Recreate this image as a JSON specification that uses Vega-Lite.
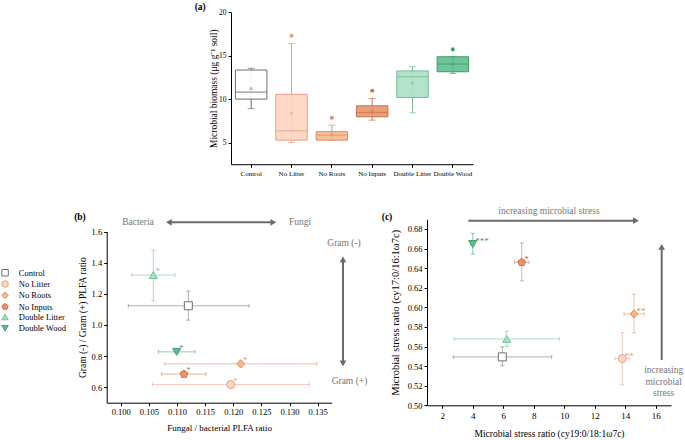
{
  "$schema": "https://vega.github.io/schema/vega-lite/v6.json",
  "background": "white",
  "width": 685,
  "height": 440,
  "autosize": {"type": "none"},
  "padding": 0,
  "config": {
    "view": {"stroke": null},
    "font": "Liberation Serif",
    "text": {"font": "Liberation Serif"},
    "axis": {"labelFont": "Liberation Serif", "titleFont": "Liberation Serif", "labelColor": "#000", "titleColor": "#000", "domainColor": "#000", "tickColor": "#000", "grid": false, "titleFontWeight": "normal", "tickSize": 3, "labelPadding": 2, "labelFontSize": 8.5, "titleFontSize": 9.5, "labelOverlap": false, "labelFlush": false},
    "legend": {"labelFont": "Liberation Serif", "labelFontSize": 8.5, "labelColor": "#000"}
  },
  "datasets": {
    "boxes": [
      {"t": "Control", "lo": 8.9, "q1": 10.0, "med": 10.8, "q3": 13.35, "hi": 13.55, "mean": 11.2},
      {"t": "No Litter", "lo": 5.0, "q1": 5.27, "med": 6.35, "q3": 10.55, "hi": 16.4, "mean": 8.35, "out": 17.3},
      {"t": "No Roots", "lo": 5.27, "q1": 5.27, "med": 5.85, "q3": 6.25, "hi": 7.0, "mean": 5.9, "out": 7.85},
      {"t": "No Inputs", "lo": 7.58, "q1": 7.96, "med": 8.46, "q3": 9.23, "hi": 10.08, "mean": 8.6, "out": 10.96},
      {"t": "Double Litter", "lo": 8.42, "q1": 10.19, "med": 12.58, "q3": 13.25, "hi": 13.73, "mean": 11.81},
      {"t": "Double Wood", "lo": 12.96, "q1": 13.15, "med": 14.04, "q3": 14.88, "hi": 14.88, "mean": 14.0, "out": 15.73}
    ],
    "tagA": [{"t": "Control", "label": "(a)", "y": 20.6}],
    "ptsB": [
      {"t": "Control", "x": 0.11201, "xlo": 0.10134, "xhi": 0.1228, "y": 1.1235, "ylo": 1.031, "yhi": 1.218, "sig": ""},
      {"t": "No Litter", "x": 0.11954, "xlo": 0.10561, "xhi": 0.13352, "y": 0.617, "ylo": 0.606, "yhi": 0.628, "sig": "*"},
      {"t": "No Roots", "x": 0.12132, "xlo": 0.10786, "xhi": 0.13483, "y": 0.75, "ylo": 0.729, "yhi": 0.772, "sig": "*"},
      {"t": "No Inputs", "x": 0.11124, "xlo": 0.10728, "xhi": 0.11515, "y": 0.684, "ylo": 0.674, "yhi": 0.694, "sig": "*"},
      {"t": "Double Litter", "x": 0.10579, "xlo": 0.10194, "xhi": 0.10964, "y": 1.321, "ylo": 1.156, "yhi": 1.482, "sig": "*"},
      {"t": "Double Wood", "x": 0.10994, "xlo": 0.10668, "xhi": 0.1132, "y": 0.827, "ylo": 0.818, "yhi": 0.836, "sig": "*"}
    ],
    "ptsC": [
      {"t": "Control", "x": 5.94, "xlo": 2.72, "xhi": 9.18, "y": 0.5494, "ylo": 0.5403, "yhi": 0.5597, "sig": ""},
      {"t": "No Litter", "x": 13.81, "xlo": 13.33, "xhi": 14.27, "y": 0.5477, "ylo": 0.5209, "yhi": 0.5742, "sig": "**"},
      {"t": "No Roots", "x": 14.57, "xlo": 13.92, "xhi": 15.23, "y": 0.5933, "ylo": 0.5739, "yhi": 0.6133, "sig": "**"},
      {"t": "No Inputs", "x": 7.21, "xlo": 6.72, "xhi": 7.69, "y": 0.646, "ylo": 0.627, "yhi": 0.6657, "sig": "*"},
      {"t": "Double Litter", "x": 6.23, "xlo": 2.77, "xhi": 9.68, "y": 0.5678, "ylo": 0.56, "yhi": 0.5757, "sig": ""},
      {"t": "Double Wood", "x": 4.0, "xlo": 3.88, "xhi": 4.12, "y": 0.6647, "ylo": 0.6542, "yhi": 0.6756, "sig": "***"}
    ],
    "textB": [
      {"label": "Bacteria", "x": 0.10306, "y": 1.6644},
      {"label": "Fungi", "x": 0.13188, "y": 1.6644},
      {"label": "Gram (-)", "x": 0.13969, "y": 1.5272},
      {"label": "Gram (+)", "x": 0.14066, "y": 0.6386}
    ],
    "tagB": [{"label": "(b)", "x": 0.09275, "y": 1.6947}],
    "shaftB": [
      {"x": 0.1086, "x2": 0.1271, "y": 1.6605, "y2": 1.6605},
      {"x": 0.13951, "x2": 0.13951, "y": 1.4216, "y2": 0.7526}
    ],
    "leftB": [{"x": 0.10855, "y": 1.6605}],
    "rightB": [{"x": 0.12712, "y": 1.6605}],
    "upB": [{"x": 0.13951, "y": 1.4216}],
    "downB": [{"x": 0.13951, "y": 0.7526}],
    "textC": [
      {"label": "increasing microbial stress", "x": 9.0, "y": 0.6987},
      {"label": "increasing", "x": 16.52, "y": 0.536},
      {"label": "microbial", "x": 16.52, "y": 0.5241},
      {"label": "stress", "x": 16.52, "y": 0.5122}
    ],
    "tagC": [{"label": "(c)", "x": -1.623, "y": 0.6922}],
    "shaftC": [
      {"x": 3.708, "x2": 14.7, "y": 0.68847, "y2": 0.68847},
      {"x": 16.39, "x2": 16.39, "y": 0.5462, "y2": 0.6618}
    ],
    "rightC": [{"x": 14.7, "y": 0.68847}],
    "upC": [{"x": 16.39, "y": 0.6618}]
  },
  "resolve": {
    "scale": {"x": "independent", "y": "independent"},
    "axis": {"x": "independent", "y": "independent"}
  },
  "layer": [
    {
      "encoding": {
        "x": {"field": "t", "type": "nominal",
          "scale": {"domain": ["Control", "No Litter", "No Roots", "No Inputs", "Double Litter", "Double Wood"], "range": [231, 473], "paddingInner": 0, "paddingOuter": 0},
          "axis": {"title": null, "orient": "bottom", "offset": -275.8, "labelAngle": 0, "labelFontSize": 7, "labelPadding": 2}}
      },
      "layer": [
        {
          "data": {"name": "boxes"},
          "mark": {"type": "rule", "strokeWidth": 1},
          "encoding": {
            "y": {"field": "lo", "type": "quantitative", "scale": {"domain": [2.5, 20], "range": [164.2, 12.3], "nice": false, "zero": false},
              "axis": {"title": "Microbial biomass (μg g⁻¹ soil)", "orient": "left", "offset": -231, "values": [5, 10, 15, 20], "labelFontSize": 7.5, "titleFontSize": 9.5, "titlePadding": 0.5}},
            "y2": {"field": "hi"},
            "color": {"field": "t", "type": "nominal", "scale": {"domain": ["Double Wood", "Double Litter", "No Inputs", "No Roots", "No Litter", "Control"], "range": ["#3e9d70", "#72c098", "#c8744c", "#dc8f62", "#e6a088", "#6e6e6e"]}, "legend": null}
          }
        },
        {
          "data": {"name": "boxes"},
          "mark": {"type": "tick", "size": 7, "thickness": 1},
          "encoding": {"y": {"field": "lo", "type": "quantitative"}, "color": {"field": "t", "type": "nominal", "legend": null}}
        },
        {
          "data": {"name": "boxes"},
          "mark": {"type": "tick", "size": 7, "thickness": 1},
          "encoding": {"y": {"field": "hi", "type": "quantitative"}, "color": {"field": "t", "type": "nominal", "legend": null}}
        },
        {
          "data": {"name": "boxes"},
          "mark": {"type": "bar", "width": {"band": 0.78}, "strokeWidth": 1, "fillOpacity": 0.9},
          "encoding": {
            "y": {"field": "q1", "type": "quantitative"},
            "y2": {"field": "q3"},
            "fill": {"field": "t", "type": "nominal", "scale": {"domain": ["Control", "No Litter", "No Roots", "No Inputs", "Double Litter", "Double Wood"], "range": ["#ffffff", "#fdd5c0", "#f7b890", "#e8946a", "#abe0c5", "#5fbe8e"]}},
            "stroke": {"field": "t", "type": "nominal", "scale": {"domain": ["Control", "No Litter", "No Roots", "No Inputs", "Double Litter", "Double Wood"], "range": ["#6e6e6e", "#e6a088", "#dc8f62", "#c8744c", "#72c098", "#3e9d70"]}}
          }
        },
        {
          "data": {"name": "boxes"},
          "mark": {"type": "tick", "size": 31, "thickness": 1.2},
          "encoding": {"y": {"field": "med", "type": "quantitative"}, "color": {"field": "t", "type": "nominal", "legend": null}}
        },
        {
          "data": {"name": "boxes"},
          "mark": {"type": "point", "shape": "square", "size": 9, "filled": true, "opacity": 0.45},
          "encoding": {"y": {"field": "mean", "type": "quantitative"}, "color": {"field": "t", "type": "nominal", "legend": null}}
        },
        {
          "data": {"name": "boxes"},
          "mark": {"type": "point", "shape": "M0,-1L0.28,-0.68L0.71,-0.71L0.68,-0.28L1,0L0.68,0.28L0.71,0.71L0.28,0.68L0,1L-0.28,0.68L-0.71,0.71L-0.68,0.28L-1,0L-0.68,-0.28L-0.71,-0.71L-0.28,-0.68Z", "size": 22, "filled": true, "opacity": 1},
          "encoding": {"y": {"field": "out", "type": "quantitative"}, "color": {"field": "t", "type": "nominal", "legend": null}}
        },
        {
          "data": {"name": "tagA"},
          "mark": {"type": "text", "align": "center", "baseline": "middle", "dx": -51, "fontSize": 9.5, "fontWeight": "bold", "color": "#000"},
          "encoding": {"y": {"field": "y", "type": "quantitative"}, "text": {"field": "label"}}
        }
      ]
    },
    {
      "layer": [
        {
          "data": {"name": "ptsB"},
          "mark": {"type": "errorbar", "ticks": {"size": 4, "opacity": 0.55}, "rule": {"opacity": 0.55}},
          "encoding": {
            "x": {"field": "xlo", "type": "quantitative", "title": "Fungal / bacterial PLFA ratio", "scale": {"domain": [0.0975, 0.1375], "range": [106.7, 331.7], "nice": false, "zero": false},
              "axis": {"title": "Fungal / bacterial PLFA ratio", "orient": "bottom", "offset": -37.3, "values": [0.1, 0.105, 0.11, 0.115, 0.12, 0.125, 0.13, 0.135], "format": ".3f", "titleFontSize": 9, "titlePadding": 7}},
            "x2": {"field": "xhi"},
            "y": {"field": "y", "type": "quantitative", "title": "Gram (-) / Gram (+) PLFA ratio", "scale": {"domain": [0.5, 1.6], "range": [402.7, 231.7], "nice": false, "zero": false},
              "axis": {"title": "Gram (-) / Gram (+) PLFA ratio", "orient": "left", "offset": -106.7, "values": [0.6, 0.8, 1.0, 1.2, 1.4, 1.6], "format": ".1f", "titleFontSize": 9.5, "titlePadding": 3.3}},
            "color": {"field": "t", "type": "nominal", "legend": null}
          }
        },
        {
          "data": {"name": "ptsB"},
          "mark": {"type": "errorbar", "ticks": {"size": 4, "opacity": 0.55}, "rule": {"opacity": 0.55}},
          "encoding": {
            "x": {"field": "x", "type": "quantitative", "title": "Fungal / bacterial PLFA ratio"},
            "y": {"field": "ylo", "type": "quantitative", "title": "Gram (-) / Gram (+) PLFA ratio", "axis": {"title": "Gram (-) / Gram (+) PLFA ratio"}},
            "y2": {"field": "yhi"},
            "color": {"field": "t", "type": "nominal", "legend": null}
          }
        },
        {
          "data": {"name": "ptsB"},
          "mark": {"type": "point", "size": 64, "strokeWidth": 1, "opacity": 1},
          "encoding": {
            "x": {"field": "x", "type": "quantitative", "title": "Fungal / bacterial PLFA ratio"},
            "y": {"field": "y", "type": "quantitative", "title": "Gram (-) / Gram (+) PLFA ratio"},
            "fill": {"field": "t", "type": "nominal", "scale": {"domain": ["Control", "No Litter", "No Roots", "No Inputs", "Double Litter", "Double Wood"], "range": ["#ffffff", "#fdd5c0", "#f7b890", "#e8946a", "#abe0c5", "#5fbe8e"]},
              "legend": {"orient": "none", "legendX": 0.8, "legendY": 268.5, "title": null, "symbolSize": 42, "symbolStrokeWidth": 1, "rowPadding": 0.3, "labelOffset": 9.5, "padding": 0}},
            "stroke": {"field": "t", "type": "nominal", "scale": {"domain": ["Control", "No Litter", "No Roots", "No Inputs", "Double Litter", "Double Wood"], "range": ["#6e6e6e", "#e6a088", "#dc8f62", "#c8744c", "#72c098", "#3e9d70"]},
              "legend": {"orient": "none", "legendX": 0.8, "legendY": 268.5, "title": null, "symbolSize": 42, "symbolStrokeWidth": 1, "rowPadding": 0.3, "labelOffset": 9.5, "padding": 0}},
            "shape": {"field": "t", "type": "nominal", "scale": {"domain": ["Control", "No Litter", "No Roots", "No Inputs", "Double Litter", "Double Wood"], "range": ["square", "circle", "diamond", "M0,-1L0.951,-0.309L0.588,0.809L-0.588,0.809L-0.951,-0.309Z", "triangle-up", "triangle-down"]},
              "legend": {"orient": "none", "legendX": 0.8, "legendY": 268.5, "title": null, "symbolSize": 42, "symbolStrokeWidth": 1, "rowPadding": 0.3, "labelOffset": 9.5, "padding": 0}}
          }
        },
        {
          "data": {"name": "ptsB"},
          "mark": {"type": "text", "align": "left", "baseline": "middle", "dx": 2.5, "dy": -3, "fontSize": 8},
          "encoding": {
            "x": {"field": "x", "type": "quantitative"},
            "y": {"field": "y", "type": "quantitative"},
            "text": {"field": "sig"},
            "color": {"field": "t", "type": "nominal", "legend": null}
          }
        },
        {
          "data": {"name": "shaftB"},
          "mark": {"type": "rule", "color": "#6b6b6b", "strokeWidth": 2},
          "encoding": {"x": {"field": "x", "type": "quantitative"}, "x2": {"field": "x2"}, "y": {"field": "y", "type": "quantitative"}, "y2": {"field": "y2"}}
        },
        {
          "data": {"name": "leftB"},
          "mark": {"type": "point", "shape": "triangle-left", "size": 45, "filled": true, "color": "#6b6b6b", "opacity": 1},
          "encoding": {"x": {"field": "x", "type": "quantitative"}, "y": {"field": "y", "type": "quantitative"}}
        },
        {
          "data": {"name": "rightB"},
          "mark": {"type": "point", "shape": "triangle-right", "size": 45, "filled": true, "color": "#6b6b6b", "opacity": 1},
          "encoding": {"x": {"field": "x", "type": "quantitative"}, "y": {"field": "y", "type": "quantitative"}}
        },
        {
          "data": {"name": "upB"},
          "mark": {"type": "point", "shape": "triangle-up", "size": 45, "filled": true, "color": "#6b6b6b", "opacity": 1},
          "encoding": {"x": {"field": "x", "type": "quantitative"}, "y": {"field": "y", "type": "quantitative"}}
        },
        {
          "data": {"name": "downB"},
          "mark": {"type": "point", "shape": "triangle-down", "size": 45, "filled": true, "color": "#6b6b6b", "opacity": 1},
          "encoding": {"x": {"field": "x", "type": "quantitative"}, "y": {"field": "y", "type": "quantitative"}}
        },
        {
          "data": {"name": "textB"},
          "mark": {"type": "text", "align": "center", "baseline": "middle", "fontSize": 9.5, "color": "#777777"},
          "encoding": {"x": {"field": "x", "type": "quantitative"}, "y": {"field": "y", "type": "quantitative"}, "text": {"field": "label"}}
        },
        {
          "data": {"name": "tagB"},
          "mark": {"type": "text", "align": "center", "baseline": "middle", "fontSize": 9.5, "fontWeight": "bold", "color": "#000"},
          "encoding": {"x": {"field": "x", "type": "quantitative"}, "y": {"field": "y", "type": "quantitative"}, "text": {"field": "label"}}
        }
      ]
    },
    {
      "layer": [
        {
          "data": {"name": "ptsC"},
          "mark": {"type": "errorbar", "ticks": {"size": 4, "opacity": 0.55}, "rule": {"opacity": 0.55}},
          "encoding": {
            "x": {"field": "xlo", "type": "quantitative", "title": "Microbial stress ratio (cy19:0/18:1ω7c)", "scale": {"domain": [1, 17], "range": [427, 671], "nice": false, "zero": false},
              "axis": {"title": "Microbial stress ratio (cy19:0/18:1ω7c)", "orient": "bottom", "offset": -34.7, "values": [2, 4, 6, 8, 10, 12, 14, 16], "labelFontSize": 9, "labelPadding": 3.5, "titleFontSize": 9.5, "titlePadding": 8}},
            "x2": {"field": "xhi"},
            "y": {"field": "y", "type": "quantitative", "title": "Microbial stress ratio (cy17:0/16:1ω7c)", "scale": {"domain": [0.5, 0.69], "range": [405.3, 219.2], "nice": false, "zero": false},
              "axis": {"title": "Microbial stress ratio (cy17:0/16:1ω7c)", "orient": "left", "offset": -427, "values": [0.5, 0.52, 0.54, 0.56, 0.58, 0.6, 0.62, 0.64, 0.66, 0.68], "format": ".2f", "titleFontSize": 10.5, "titlePadding": 6.5}},
            "color": {"field": "t", "type": "nominal", "legend": null}
          }
        },
        {
          "data": {"name": "ptsC"},
          "mark": {"type": "errorbar", "ticks": {"size": 4, "opacity": 0.55}, "rule": {"opacity": 0.55}},
          "encoding": {
            "x": {"field": "x", "type": "quantitative", "title": "Microbial stress ratio (cy19:0/18:1ω7c)"},
            "y": {"field": "ylo", "type": "quantitative", "title": "Microbial stress ratio (cy17:0/16:1ω7c)", "axis": {"title": "Microbial stress ratio (cy17:0/16:1ω7c)"}},
            "y2": {"field": "yhi"},
            "color": {"field": "t", "type": "nominal", "legend": null}
          }
        },
        {
          "data": {"name": "ptsC"},
          "mark": {"type": "point", "size": 64, "strokeWidth": 1, "opacity": 1},
          "encoding": {
            "x": {"field": "x", "type": "quantitative", "title": "Microbial stress ratio (cy19:0/18:1ω7c)"},
            "y": {"field": "y", "type": "quantitative", "title": "Microbial stress ratio (cy17:0/16:1ω7c)"},
            "fill": {"field": "t", "type": "nominal"},
            "stroke": {"field": "t", "type": "nominal"},
            "shape": {"field": "t", "type": "nominal"}
          }
        },
        {
          "data": {"name": "ptsC"},
          "mark": {"type": "text", "align": "left", "baseline": "middle", "dx": 2.5, "dy": -3, "fontSize": 9},
          "encoding": {
            "x": {"field": "x", "type": "quantitative"},
            "y": {"field": "y", "type": "quantitative"},
            "text": {"field": "sig"},
            "color": {"field": "t", "type": "nominal", "legend": null}
          }
        },
        {
          "data": {"name": "shaftC"},
          "mark": {"type": "rule", "color": "#6b6b6b", "strokeWidth": 2},
          "encoding": {"x": {"field": "x", "type": "quantitative"}, "x2": {"field": "x2"}, "y": {"field": "y", "type": "quantitative"}, "y2": {"field": "y2"}}
        },
        {
          "data": {"name": "rightC"},
          "mark": {"type": "point", "shape": "triangle-right", "size": 45, "filled": true, "color": "#6b6b6b", "opacity": 1},
          "encoding": {"x": {"field": "x", "type": "quantitative"}, "y": {"field": "y", "type": "quantitative"}}
        },
        {
          "data": {"name": "upC"},
          "mark": {"type": "point", "shape": "triangle-up", "size": 45, "filled": true, "color": "#6b6b6b", "opacity": 1},
          "encoding": {"x": {"field": "x", "type": "quantitative"}, "y": {"field": "y", "type": "quantitative"}}
        },
        {
          "data": {"name": "textC"},
          "mark": {"type": "text", "align": "center", "baseline": "middle", "fontSize": 9.5, "color": "#777777"},
          "encoding": {"x": {"field": "x", "type": "quantitative"}, "y": {"field": "y", "type": "quantitative"}, "text": {"field": "label"}}
        },
        {
          "data": {"name": "tagC"},
          "mark": {"type": "text", "align": "center", "baseline": "middle", "fontSize": 9.5, "fontWeight": "bold", "color": "#000"},
          "encoding": {"x": {"field": "x", "type": "quantitative"}, "y": {"field": "y", "type": "quantitative"}, "text": {"field": "label"}}
        }
      ]
    }
  ]
}
